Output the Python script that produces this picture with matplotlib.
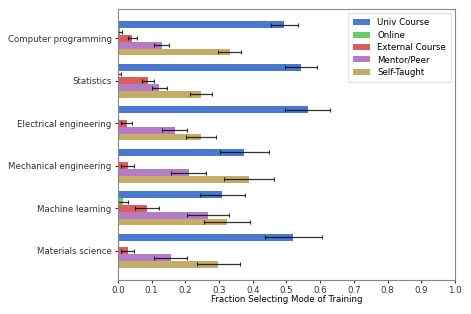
import matplotlib.pyplot as plt
import numpy as np

categories = [
    "Computer programming",
    "Statistics",
    "Electrical engineering",
    "Mechanical engineering",
    "Machine learning",
    "Materials science",
]
modes = ["Univ Course", "Online", "External Course", "Mentor/Peer", "Self-Taught"]

univ = [0.493, 0.543, 0.563, 0.375, 0.310, 0.520]
univ_err = [0.040, 0.047, 0.067, 0.072, 0.067, 0.085]
online = [0.006, 0.004, 0.0, 0.0, 0.016, 0.0]
online_err = [0.006, 0.004, 0.0, 0.0, 0.015, 0.0]
external = [0.043, 0.088, 0.026, 0.029, 0.086, 0.029]
external_err = [0.012, 0.018, 0.016, 0.019, 0.035, 0.019]
mentor = [0.130, 0.122, 0.168, 0.210, 0.268, 0.156]
mentor_err = [0.022, 0.022, 0.037, 0.052, 0.062, 0.048]
self_taught = [0.331, 0.247, 0.247, 0.389, 0.324, 0.297]
self_err = [0.034, 0.032, 0.045, 0.075, 0.068, 0.064]

COLORS = ["#4878d0", "#6acc64", "#d65f5f", "#b47cc7", "#c4ad66"]
FS = 6.2

plt.rcParams["font.family"] = ["DejaVu Sans"]

fig = plt.figure(figsize=(4.71, 3.14), dpi=100)
ax = fig.add_axes([0.2505, 0.108, 0.7155, 0.863])

y = np.arange(len(categories))
h = 0.16
series = [
    (univ, univ_err),
    (online, online_err),
    (external, external_err),
    (mentor, mentor_err),
    (self_taught, self_err),
]
for i, ((vals, errs), label, color) in enumerate(zip(series, modes, COLORS)):
    pos = y + (i - 2) * h
    ax.barh(pos, vals, height=h, color=color, label=label)
    ax.errorbar(vals, pos, xerr=errs, fmt="none", ecolor="black", elinewidth=0.9,
                capsize=1.6, capthick=0.8, alpha=0.8)

ax.set_yticks(y)
ax.set_yticklabels(categories, fontsize=FS)
ax.invert_yaxis()
ax.set_xlim(0, 1.0)
ax.set_xticks(np.arange(0, 1.01, 0.1))
ax.set_xticklabels([f"{v:.1f}" for v in np.arange(0, 1.01, 0.1)], fontsize=FS)
ax.set_xlabel("Fraction Selecting Mode of Training", fontsize=FS, labelpad=0)
ax.tick_params(colors="#333333", length=2.5, width=0.8, pad=2)
for sp in ax.spines.values():
    sp.set_color("#888888")
ax.legend(loc="upper right", fontsize=FS, frameon=True, edgecolor="#dddddd",
          handlelength=2.0, borderpad=0.55, labelspacing=0.4)

fig.savefig("out.png", dpi=100)
